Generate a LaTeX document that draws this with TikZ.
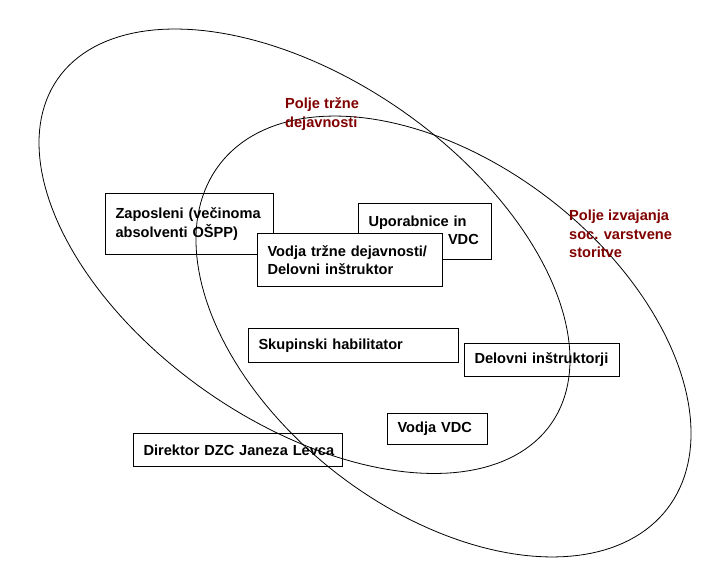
\documentclass[tikz,border=0pt]{standalone}
\usepackage{fontspec}
\setmainfont{Liberation Sans}
\definecolor{fieldred}{RGB}{128,0,0}
\tikzset{
  box/.style={draw=black, line width=1pt, fill=white, anchor=north west, align=left,
    inner xsep=10pt, inner ysep=0pt, font=\fontsize{14.6}{18.5}\selectfont\bfseries},
  field/.style={anchor=base west, align=left, inner sep=0pt, text=fieldred,
    font=\fontsize{14.6}{18.5}\selectfont\bfseries},
  venn/.style={draw=black, line width=0.8pt}
}
\begin{document}
\begin{tikzpicture}[x=1pt,y=-1pt]
\useasboundingbox (0,0) rectangle (728,588);
% boxes
\node[box, text width=148pt, minimum height=61pt] (zap) at (105,193) {Zaposleni (večinoma\\absolventi OŠPP)};
\node[box, text width=113pt, minimum height=56pt] (upo) at (358,203) {Uporabnice in\\uporabniki VDC};
\node[box, text width=165pt, minimum height=53pt] (vtd) at (257,233) {Vodja tržne dejavnosti/\\Delovni inštruktor};
\node[box, text width=190pt, minimum height=34pt] (skh) at (248,328) {Skupinski habilitator};
\node[box, text width=135pt, minimum height=33pt] (dei) at (464,343) {Delovni inštruktorji};
\node[box, text width=80pt, minimum height=31pt] (vvdc) at (387,413) {Vodja VDC};
\node[box, text width=189pt, minimum height=33pt] (dir) at (133,433) {\mbox{Direktor DZC Janeza Levca}};
% fields (rotated ellipses)
\draw[venn] plot[domain=0:360, samples=181, variable=\t]
  ({304.5+246.76*cos(\t)-97.99*sin(\t)}, {251.25+172.38*cos(\t)+140.27*sin(\t)}) -- cycle;
\draw[venn] plot[domain=0:360, samples=181, variable=\t]
  ({443.5+223.74*cos(\t)-105.91*sin(\t)}, {336.5+172.29*cos(\t)+137.54*sin(\t)}) -- cycle;
% labels
\node[field] (ltrz) at (285,127.5) {Polje tržne\\dejavnosti};
\node[field] (lsoc) at (569,258) {Polje izvajanja\\soc. varstvene\\storitve};
\end{tikzpicture}
\end{document}
